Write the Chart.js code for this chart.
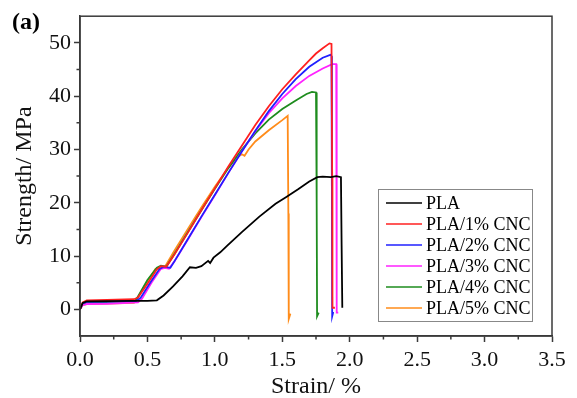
<!DOCTYPE html>
<html>
<head>
<meta charset="utf-8">
<script src="https://cdn.jsdelivr.net/npm/chart.js@4.4.0/dist/chart.umd.min.js"></script>
<style>
  html, body { margin: 0; padding: 0; background: #fff; }
</style>
</head>
<body>
<canvas id="tensile" width="577" height="398"></canvas>
<script>
// stress-strain curves, [strain %, strength MPa]
const pla = [[0,0],[0.02,1.2],[0.05,1.5],[0.2,1.55],[0.4,1.6],[0.5,1.6],[0.57,1.7],[0.62,2.6],[0.69,4.3],[0.76,6.2],[0.815,7.9],[0.86,7.8],[0.9,8.1],[0.95,9.1],[0.965,8.7],[0.99,9.7],[1.04,10.7],[1.09,11.9],[1.2,14.5],[1.33,17.4],[1.45,19.8],[1.53,21.1],[1.62,22.6],[1.7,24.0],[1.76,24.8],[1.8,24.9],[1.86,24.8],[1.9,25.0],[1.935,24.8],[1.94,12],[1.945,0.3]];
const cnc1 = [[0,0],[0.02,1.3],[0.05,1.7],[0.2,1.75],[0.4,1.9],[0.43,2.2],[0.5,4.8],[0.57,7.5],[0.6,8.1],[0.64,8.0],[0.7,10.3],[0.8,14.4],[0.9,18.6],[1.0,22.7],[1.1,26.8],[1.2,30.7],[1.3,34.6],[1.4,38.1],[1.5,41.3],[1.6,44.1],[1.7,46.7],[1.75,48.0],[1.8,49.0],[1.85,49.9],[1.865,49.8],[1.87,25],[1.872,0.3],[1.89,0.3]];
const cnc2 = [[0,0],[0.02,1.1],[0.05,1.4],[0.2,1.45],[0.42,1.6],[0.45,2.2],[0.52,5.0],[0.59,7.6],[0.62,8.0],[0.67,7.8],[0.7,9.0],[0.8,13.2],[0.9,17.4],[1.0,21.5],[1.1,25.6],[1.2,29.6],[1.3,33.5],[1.4,37.2],[1.5,40.4],[1.6,43.2],[1.7,45.5],[1.8,47.2],[1.86,47.8],[1.865,47.5],[1.868,20],[1.87,-1.3],[1.878,-0.5]];
const cnc3 = [[0,0],[0.02,0.8],[0.05,1.0],[0.2,1.05],[0.43,1.3],[0.46,2.0],[0.53,5.0],[0.6,7.6],[0.63,7.8],[0.66,7.6],[0.7,9.0],[0.8,13.1],[0.9,17.3],[1.0,21.4],[1.1,25.6],[1.2,29.6],[1.3,33.4],[1.4,36.8],[1.5,39.6],[1.6,41.9],[1.7,43.8],[1.8,45.2],[1.87,46.0],[1.9,46.0],[1.902,30],[1.905,-0.6],[1.915,-0.6]];
const cnc4 = [[0,0],[0.02,1.0],[0.05,1.3],[0.2,1.35],[0.41,1.6],[0.43,2.4],[0.5,5.5],[0.57,7.8],[0.6,8.2],[0.64,8.0],[0.7,10.4],[0.8,14.5],[0.9,18.6],[1.0,22.6],[1.1,26.5],[1.2,30.0],[1.26,31.8],[1.3,33.0],[1.4,35.6],[1.5,37.6],[1.6,39.2],[1.68,40.4],[1.72,40.8],[1.75,40.7],[1.755,20],[1.758,-1.3],[1.77,-0.6]];
const cnc5 = [[0,0],[0.02,0.8],[0.05,1.0],[0.2,1.1],[0.4,1.2],[0.42,1.8],[0.5,5.3],[0.56,7.6],[0.6,7.7],[0.63,8.0],[0.7,11.0],[0.8,15.1],[0.9,19.1],[1.0,23.0],[1.1,26.6],[1.17,28.6],[1.2,29.1],[1.22,28.8],[1.25,30.0],[1.3,31.5],[1.4,33.6],[1.5,35.5],[1.54,36.3],[1.545,18],[1.548,-1.8],[1.56,-0.8]];

const seriesNames = ['PLA', 'PLA/1% CNC', 'PLA/2% CNC', 'PLA/3% CNC', 'PLA/4% CNC', 'PLA/5% CNC'];
const seriesData = [pla, cnc1, cnc2, cnc3, cnc4, cnc5];
const seriesColors = ['#000000', '#ff2020', '#2020ff', '#ff22ff', '#1e8c1e', '#ff8c1a'];

const xTicks = [0, 0.5, 1.0, 1.5, 2.0, 2.5, 3.0, 3.5];
const xMinor = [0.25, 0.75, 1.25, 1.75, 2.25, 2.75, 3.25];
const yTicks = [0, 10, 20, 30, 40, 50];
const yMinor = [5, 15, 25, 35, 45];

const serif = "'Liberation Serif', 'Times New Roman', serif";
const axisColor = '#3a3a3a';

const datasets = seriesData.map((pts, i) => ({
  label: seriesNames[i],
  data: pts.map(p => ({ x: p[0], y: p[1] })),
  borderColor: seriesColors[i],
  borderWidth: 1.8,
  pointRadius: 0,
  tension: 0,
  fill: false
}));

// box frame, minor ticks, panel letter
const frame = {
  id: 'frame',
  afterDraw(chart) {
    const { ctx, chartArea: a } = chart;
    const xs = chart.scales.x, ys = chart.scales.y;
    ctx.save();
    ctx.strokeStyle = axisColor;
    ctx.lineWidth = 1.5;
    ctx.strokeRect(a.left, a.top, a.right - a.left, a.bottom - a.top);
    ctx.beginPath();
    xMinor.forEach(v => {
      const px = xs.getPixelForValue(v);
      ctx.moveTo(px, a.bottom);
      ctx.lineTo(px, a.bottom + 3.5);
    });
    yMinor.forEach(v => {
      const py = ys.getPixelForValue(v);
      ctx.moveTo(a.left, py);
      ctx.lineTo(a.left - 3.5, py);
    });
    ctx.stroke();
    ctx.fillStyle = '#000';
    ctx.font = 'bold 24px ' + serif;
    ctx.textBaseline = 'alphabetic';
    ctx.fillText('(a)', 12, 29);
    ctx.restore();
  }
};

const legendBox = {
  id: 'legendBox',
  afterDraw(chart) {
    const { ctx, chartArea: a } = chart;
    const w = 154, rowH = 21, h = 132;
    const x0 = a.right - 20 - w, y0 = a.bottom - 15 - h;
    ctx.save();
    ctx.fillStyle = '#fff';
    ctx.fillRect(x0, y0, w, h);
    ctx.strokeStyle = '#888';
    ctx.lineWidth = 1;
    ctx.strokeRect(x0 + 0.5, y0 + 0.5, w, h);
    ctx.font = '18px ' + serif;
    ctx.textBaseline = 'middle';
    chart.data.datasets.forEach((ds, i) => {
      const cy = y0 + 14 + i * rowH;
      ctx.strokeStyle = ds.borderColor;
      ctx.lineWidth = 1.6;
      ctx.beginPath();
      ctx.moveTo(x0 + 8, cy);
      ctx.lineTo(x0 + 44, cy);
      ctx.stroke();
      ctx.fillStyle = '#000';
      ctx.fillText(ds.label, x0 + 48, cy + 1);
    });
    ctx.restore();
  }
};

new Chart(document.getElementById('tensile'), {
  type: 'line',
  data: { datasets },
  plugins: [frame, legendBox],
  options: {
    responsive: false,
    animation: false,
    layout: { padding: { top: 8, right: 25, left: 0, bottom: 0 } },
    plugins: { legend: { display: false }, tooltip: { enabled: false } },
    scales: {
      x: {
        type: 'linear',
        min: 0,
        max: 3.5,
        afterBuildTicks: s => { s.ticks = xTicks.map(v => ({ value: v })); },
        afterFit: s => { s.height = 62; },
        ticks: {
          callback: v => v.toFixed(1),
          font: { family: serif, size: 22 },
          color: '#111',
          padding: 5,
          maxRotation: 0,
          autoSkip: false
        },
        grid: { drawOnChartArea: false, drawTicks: true, tickLength: 6, color: axisColor, tickWidth: 1.5 },
        border: { color: axisColor, width: 1.5 },
        title: { display: true, text: 'Strain/ %', color: '#111', font: { family: serif, size: 24 }, padding: { top: 0, bottom: -3 } }
      },
      y: {
        type: 'linear',
        min: -5,
        max: 55,
        afterBuildTicks: s => { s.ticks = yTicks.map(v => ({ value: v })); },
        afterFit: s => { s.width = 80; },
        ticks: {
          font: { family: serif, size: 22 },
          color: '#111',
          padding: 3,
          autoSkip: false
        },
        grid: { drawOnChartArea: false, drawTicks: true, tickLength: 6, color: axisColor, tickWidth: 1.5 },
        border: { color: axisColor, width: 1.5 },
        title: { display: true, text: 'Strength/ MPa', color: '#111', font: { family: serif, size: 24 }, padding: { top: 10, bottom: 0 } }
      }
    }
  }
});
</script>
</body>
</html>
